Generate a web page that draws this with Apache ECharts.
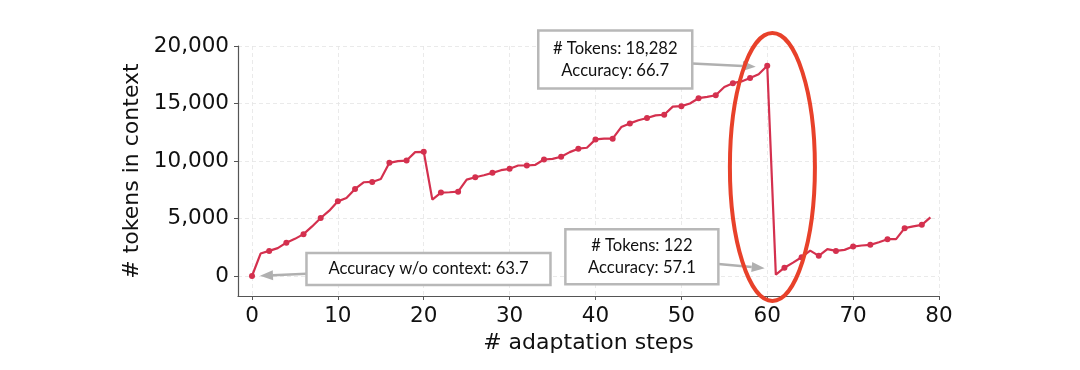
<!DOCTYPE html>
<html><head><meta charset="utf-8">
<script src="https://cdn.jsdelivr.net/npm/echarts@6/dist/echarts.min.js"></script>
<style>html,body{margin:0;padding:0;background:#fff}#c{width:1080px;height:370px}</style>
</head><body><div id="c"></div>
<script>
const steps = [0,1,2,3,4,5,6,7,8,9,10,11,12,13,14,15,16,17,18,19,20,21,22,23,24,25,26,27,28,29,30,31,32,33,34,35,36,37,38,39,40,41,42,43,44,45,46,47,48,49,50,51,52,53,54,55,56,57,58,59,60,61,62,63,64,65,66,67,68,69,70,71,72,73,74,75,76,77,78,79];
const tokens = [0,1950,2180,2420,2900,3230,3640,4310,5040,5680,6490,6780,7570,8150,8180,8440,9840,9990,10040,10770,10800,6640,7250,7280,7330,8380,8590,8760,8970,9200,9320,9610,9610,9670,10130,10190,10370,10770,11070,11150,11880,11940,11940,12950,13270,13540,13740,13970,14020,14730,14770,15000,15460,15570,15720,16440,16770,16920,17210,17550,18282,122,720,1160,1630,2210,1750,2330,2180,2270,2560,2650,2710,2940,3200,3200,4160,4310,4450,5090];
const xTicks = [0,10,20,30,40,50,60,70,80];
const yTicks = [0,5000,10000,15000,20000];
const annTexts = ['# Tokens: 18,282\nAccuracy: 66.7', 'Accuracy w/o context: 63.7', '# Tokens: 122\nAccuracy: 57.1'];
const annBoxCenters = [[42.3, 18826], [20.55, 609], [45.4, 1678]];
const annTips = [[58.66, 18200], [0.93, 26], [59.7, 670]];
const annBoxSizes = [[154, 58], [244, 32], [153, 55]];
const highlightCenter = [60.6, 9480];
const highlightRadii = [4.95, 11650];

const chart = echarts.init(document.getElementById('c'), null, {renderer: 'canvas'});
const fmt = v => Number(v).toLocaleString('en-US');
const gridLine = {show: true, lineStyle: {color: '#e4e4e4', type: [4, 3], width: 0.8}};
const axisFont = 'DejaVu Sans';
const option = {
  animation: false,
  backgroundColor: '#fff',
  grid: {left: 238, right: 141, top: 46, bottom: 74, containLabel: false},
  xAxis: {
    type: 'value', min: -1.63, max: 80,
    name: '# adaptation steps', nameLocation: 'middle', nameGap: 35,
    nameTextStyle: {fontFamily: axisFont, fontSize: 22, color: '#111'},
    axisLine: {show: true, onZero: false, lineStyle: {color: '#555', width: 1.2}},
    axisTick: {show: true, length: 4, customValues: xTicks, lineStyle: {color: '#555'}},
    axisLabel: {customValues: xTicks, fontFamily: axisFont, fontSize: 21.5, color: '#111', margin: 9},
    splitLine: gridLine
  },
  yAxis: {
    type: 'value', min: -1740, max: 20000,
    name: '# tokens in context', nameLocation: 'middle', nameGap: 94,
    nameTextStyle: {fontFamily: axisFont, fontSize: 22, color: '#111'},
    axisLine: {show: true, onZero: false, lineStyle: {color: '#555', width: 1.2}},
    axisTick: {show: true, length: 4, customValues: yTicks, lineStyle: {color: '#555'}},
    axisLabel: {customValues: yTicks, formatter: fmt, fontFamily: axisFont, fontSize: 21.5, color: '#111', margin: 9},
    splitLine: gridLine
  },
  series: [{
    type: 'line',
    data: steps.map((s, i) => [s, tokens[i]]),
    showSymbol: true, showAllSymbol: true,
    symbol: 'circle',
    symbolSize: (v, p) => (p.dataIndex % 2 === 0 ? 6 : 0),
    lineStyle: {color: '#d4304e', width: 2.2},
    itemStyle: {color: '#d4304e'},
    z: 3
  }]
};
chart.setOption(option);

function px(pt) { return chart.convertToPixel({xAxisIndex: 0, yAxisIndex: 0}, pt); }

const graphics = [];
const c = px(highlightCenter);
const e1 = px([highlightCenter[0] + highlightRadii[0], highlightCenter[1] + highlightRadii[1]]);
graphics.push({
  type: 'ellipse', z: 50,
  shape: {cx: c[0], cy: c[1], rx: Math.abs(e1[0] - c[0]), ry: Math.abs(e1[1] - c[1])},
  style: {fill: null, stroke: '#e8412a', lineWidth: 4}
});

annTexts.forEach((t, i) => {
  const bc = px(annBoxCenters[i]);
  const tip = px(annTips[i]);
  const w = annBoxSizes[i][0], h = annBoxSizes[i][1];
  const dx = tip[0] - bc[0], dy = tip[1] - bc[1];
  const s = Math.min(Math.abs((w / 2) / dx || Infinity), Math.abs((h / 2) / dy || Infinity));
  const start = [bc[0] + dx * s, bc[1] + dy * s];
  const len = Math.hypot(tip[0] - start[0], tip[1] - start[1]);
  const ux = (tip[0] - start[0]) / len, uy = (tip[1] - start[1]) / len;
  const hl = 13, hw = 5;
  const base = [tip[0] - ux * hl, tip[1] - uy * hl];
  graphics.push({
    type: 'line', z: 40,
    shape: {x1: start[0], y1: start[1], x2: base[0], y2: base[1]},
    style: {stroke: '#b0b0b0', lineWidth: 2.5}
  });
  graphics.push({
    type: 'polygon', z: 40,
    shape: {points: [tip, [base[0] - uy * hw, base[1] + ux * hw], [base[0] + uy * hw, base[1] - ux * hw]]},
    style: {fill: '#b0b0b0'}
  });
  graphics.push({
    type: 'rect', z: 41,
    shape: {x: bc[0] - w / 2, y: bc[1] - h / 2, width: w, height: h},
    style: {fill: '#fff', stroke: '#b8b8b8', lineWidth: 2.5}
  });
  graphics.push({
    type: 'text', z: 42,
    x: bc[0], y: bc[1],
    style: {text: t, fill: '#111', font: '16.6px Lato', align: 'center', verticalAlign: 'middle', lineHeight: 22}
  });
});
chart.setOption({graphic: graphics});
</script>
</body></html>
